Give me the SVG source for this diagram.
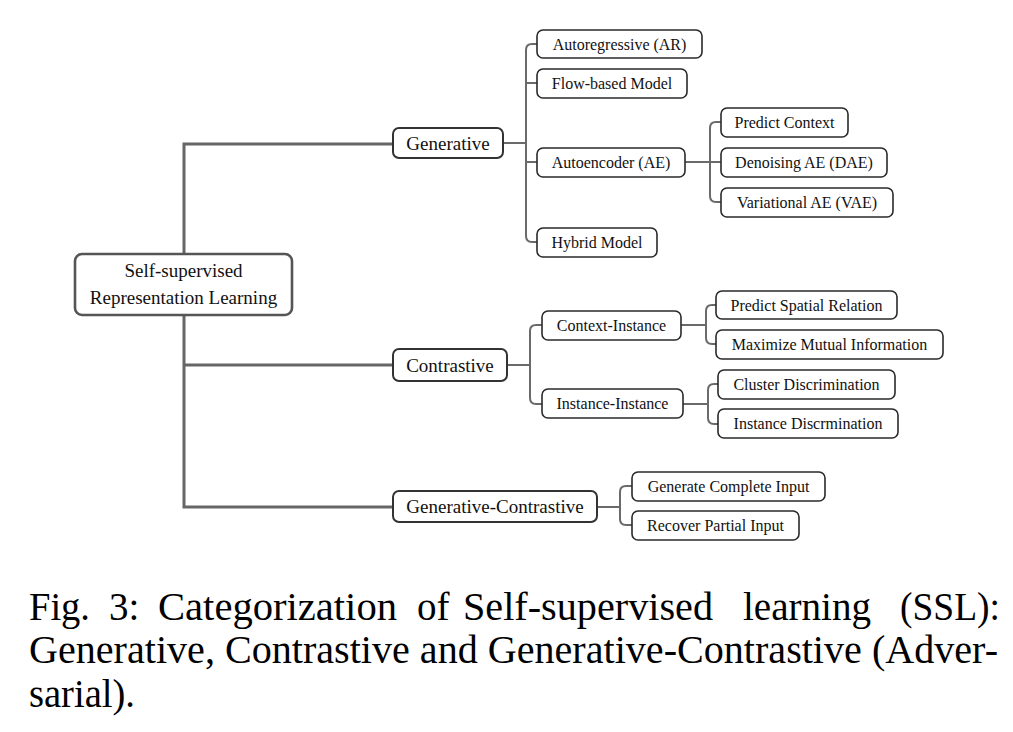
<svg xmlns="http://www.w3.org/2000/svg" width="1013" height="732" viewBox="0 0 1013 732">
<style>
.box{fill:#fff;stroke:#2a2a2a;stroke-width:1.6}
.l1{fill:#fff;stroke:#333;stroke-width:2}
.root{fill:#fff;stroke:#555;stroke-width:2.6}
.t{font-family:"Liberation Serif","Times New Roman",serif;font-size:16px;fill:#111;text-anchor:middle}
.t1{font-family:"Liberation Serif","Times New Roman",serif;font-size:19px;fill:#111;text-anchor:middle}
.c{fill:none;stroke:#6a6a6a;stroke-width:2}
.trunk{fill:none;stroke:#666;stroke-width:3}
.cap{font-family:"Liberation Serif","Times New Roman",serif;font-size:39px;fill:#000}
</style>
<rect width="1013" height="732" fill="#fff"/>
<g id="connectors">
<path class="trunk" d="M393 144 H184 V507 H393 M184 365 H393"/>
<path class="c" d="M503 143 H526 M537 44 H532 Q526 44 526 50 V236 Q526 242 532 242 H537 M526 83 H537 M526 162 H537"/>
<path class="c" d="M685 162 H710 M721 122 H716 Q710 122 710 128 V196 Q710 202 716 202 H721 M710 162 H721"/>
<path class="c" d="M507 365 H530 M542 325 H536 Q530 325 530 331 V398 Q530 404 536 404 H542"/>
<path class="c" d="M681 325 H706 M716 305 H712 Q706 305 706 311 V338 Q706 344 712 344 H716"/>
<path class="c" d="M683 404 H708 M718 384 H714 Q708 384 708 390 V418 Q708 424 714 424 H718"/>
<path class="c" d="M597 507 H620 M632 486 H626 Q620 486 620 492 V519 Q620 525 626 525 H632"/>
</g>
<g id="root"><rect class="root" x="75" y="254" width="217" height="61" rx="7"/><text class="t1" x="183.5" y="277">Self-supervised</text><text class="t1" x="183.5" y="304">Representation Learning</text></g>
<g id="generative"><rect class="l1" x="393" y="128" width="110" height="30" rx="6"/><text class="t1" x="448" y="149.5">Generative</text></g>
<g id="ar"><rect class="box" x="537" y="30" width="165" height="28" rx="6"/><text class="t" x="619.5" y="49.5">Autoregressive (AR)</text></g>
<g id="flow"><rect class="box" x="537" y="69" width="150" height="29" rx="6"/><text class="t" x="612" y="89">Flow-based Model</text></g>
<g id="ae"><rect class="box" x="537" y="148" width="148" height="29" rx="6"/><text class="t" x="611" y="168">Autoencoder (AE)</text></g>
<g id="hybrid"><rect class="box" x="537" y="228" width="120" height="29" rx="6"/><text class="t" x="597" y="248">Hybrid Model</text></g>
<g id="predict-context"><rect class="box" x="721" y="108" width="127" height="29" rx="6"/><text class="t" x="784.5" y="128">Predict Context</text></g>
<g id="dae"><rect class="box" x="721" y="148" width="166" height="29" rx="6"/><text class="t" x="804" y="168">Denoising AE (DAE)</text></g>
<g id="vae"><rect class="box" x="721" y="188" width="172" height="29" rx="6"/><text class="t" x="807" y="208">Variational AE (VAE)</text></g>
<g id="contrastive"><rect class="l1" x="393" y="349" width="114" height="32" rx="6"/><text class="t1" x="450" y="371.5">Contrastive</text></g>
<g id="context-instance"><rect class="box" x="542" y="311" width="139" height="29" rx="6"/><text class="t" x="611.5" y="331">Context-Instance</text></g>
<g id="instance-instance"><rect class="box" x="542" y="389" width="141" height="29" rx="6"/><text class="t" x="612.5" y="409">Instance-Instance</text></g>
<g id="psr"><rect class="box" x="716" y="291" width="181" height="28" rx="6"/><text class="t" x="806.5" y="310.5">Predict Spatial Relation</text></g>
<g id="mmi"><rect class="box" x="716" y="330" width="227" height="29" rx="6"/><text class="t" x="829.5" y="350">Maximize Mutual Information</text></g>
<g id="cluster"><rect class="box" x="718" y="370" width="177" height="29" rx="6"/><text class="t" x="806.5" y="390">Cluster Discrimination</text></g>
<g id="instance-disc"><rect class="box" x="718" y="409" width="180" height="29" rx="6"/><text class="t" x="808" y="429">Instance Discrmination</text></g>
<g id="gen-con"><rect class="l1" x="393" y="491" width="204" height="31" rx="6"/><text class="t1" x="495" y="513">Generative-Contrastive</text></g>
<g id="gci"><rect class="box" x="632" y="472" width="193" height="29" rx="6"/><text class="t" x="728.5" y="492">Generate Complete Input</text></g>
<g id="rpi"><rect class="box" x="632" y="511" width="167" height="29" rx="6"/><text class="t" x="715.5" y="531">Recover Partial Input</text></g>
<g id="caption">
<text class="cap" y="620"><tspan x="29" textLength="61" lengthAdjust="spacingAndGlyphs">Fig.</tspan></text>
<text class="cap" x="109" y="620">3:</text>
<text class="cap" x="158" y="620" textLength="239" lengthAdjust="spacingAndGlyphs">Categorization</text>
<text class="cap" x="417" y="620">of</text>
<text class="cap" x="463" y="620" textLength="250" lengthAdjust="spacingAndGlyphs">Self-supervised</text>
<text class="cap" x="743" y="620" textLength="128" lengthAdjust="spacingAndGlyphs">learning</text>
<text class="cap" x="900" y="620" textLength="100" lengthAdjust="spacingAndGlyphs">(SSL):</text>
<text class="cap" x="29" y="663" textLength="969" lengthAdjust="spacingAndGlyphs">Generative, Contrastive and Generative-Contrastive (Adver-</text>
<text class="cap" x="29" y="707" textLength="106" lengthAdjust="spacingAndGlyphs">sarial).</text>
</g>
</svg>
